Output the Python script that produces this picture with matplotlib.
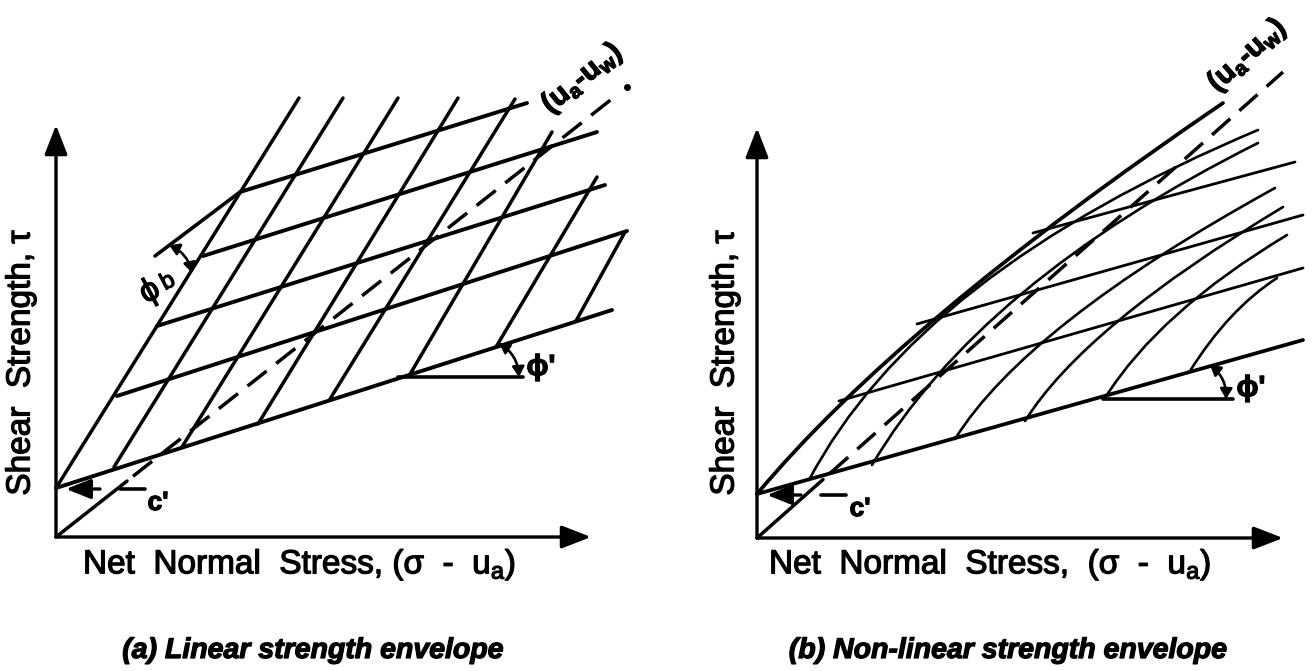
import numpy as np
import matplotlib.pyplot as plt
import matplotlib.patheffects as pe
from matplotlib.patches import FancyArrowPatch, PathPatch
from matplotlib.path import Path

plt.rcParams['font.family'] = ['Liberation Sans', 'DejaVu Sans']
plt.rcParams['mathtext.fontset'] = 'custom'
plt.rcParams['mathtext.rm'] = 'Liberation Sans'
plt.rcParams['mathtext.it'] = 'Liberation Sans:italic'
plt.rcParams['mathtext.bf'] = 'Liberation Sans:bold'

W, H = 1313, 671
# everything below is in picture pixels, y counted downwards

# ---------- (a) linear envelope ----------
a_origin = (56, 537)
a_axis_top = 125
a_axis_right = 591
a_c = 488

# lines parallel to phi' (lower envelope first)
a_flat_x0 = [56, 117, 157, 203, 240]
a_flat_y0 = [488, 396, 326, 256, 192]
a_flat_x1 = [612, 627, 605, 597, 527]
a_flat_y1 = [310, 231, 185, 132, 103]

# steep lines (phi^b direction), start on the lower envelope
a_steep_x0 = [56, 114, 182, 258, 330, 409, 496, 576]
a_steep_y0 = [488, 467, 447, 424, 399, 376, 347, 321]
a_steep_x1 = [299, 343, 398, 458, 515, 552, 597, 625]
a_steep_y1 = [98, 98, 98, 98, 99, 132, 177, 232]

a_ref_seg = [(155, 256), (240, 192)]       # suction-axis direction for phi^b
a_suction_end = (627, 87)

# ---------- (b) non-linear envelope ----------
b_origin = (757, 538)
b_axis_top = 128
b_axis_right = 1283
b_c = 494
b_lower_end = (1303, 340)

# upper envelope + curved suction lines: start, end, start slope, end slope
b_curve_x0 = [757, 809, 872, 955, 1025, 1105, 1190]
b_curve_y0 = [494, 480, 465, 439, 421, 398, 371]
b_curve_x1 = [1223, 1258, 1258, 1275, 1283, 1287, 1277]
b_curve_y1 = [103, 130, 143, 188, 207, 235, 278]
b_curve_s0 = [1.2, 1.9, 1.7, 1.6, 1.6, 1.6, 1.6]
b_curve_s1 = [0.68, 0.42, 0.5, 0.55, 0.6, 0.6, 0.65]

# lines parallel to phi' starting on the upper envelope
b_flat_x0 = [839, 917, 1033]
b_flat_y0 = [401, 324, 233]
b_flat_x1 = [1303, 1303, 1295]
b_flat_y1 = [268, 215, 162]
b_suction_end = (1283, 72)

K = 'black'
THICK = [pe.withStroke(linewidth=0.9, foreground=K)]

fig = plt.figure(figsize=(W / 100, H / 100), dpi=100)
ax = fig.add_axes([0, 0, 1, 1])
ax.set_xlim(0, W)
ax.set_ylim(H, 0)
ax.axis('off')


def line(p, q, lw=2.2, **kw):
    ax.plot([p[0], q[0]], [p[1], q[1]], color=K, lw=lw, solid_capstyle='round', **kw)


def arrow(p, q, lw=2.0, style='-|>,head_length=0.9,head_width=0.35', ms=20, cs='arc3'):
    ax.add_patch(FancyArrowPatch(p, q, arrowstyle=style, mutation_scale=ms,
                                 connectionstyle=cs, color=K, lw=lw,
                                 shrinkA=0, shrinkB=0))


def ctrl(p, q, s0, s1):
    x = (p[1] - q[1] + s0 * p[0] - s1 * q[0]) / (s0 - s1)
    return (x, p[1] - s0 * (x - p[0]))


def curve(p, q, s0, s1, lw):
    c = ctrl(p, q, s0, s1)
    path = Path([p, c, q], [Path.MOVETO, Path.CURVE3, Path.CURVE3])
    ax.add_patch(PathPatch(path, fill=False, ec=K, lw=lw, capstyle='round'))


def text(x, y, s, **kw):
    kw.setdefault('ha', 'center')
    kw.setdefault('va', 'center')
    ax.text(x, y, s, path_effects=THICK, **kw)


def angle_arrow(p, q):
    arrow(p, q, lw=1.9, style='<|-|>,head_length=0.5,head_width=0.3', ms=12,
          cs='arc3,rad=-0.25')


def axes_frame(o, top, right, c, cx_text):
    arrow(o, (o[0], top), lw=2.4)
    arrow(o, (right, o[1]), lw=2.4)
    # c' marker
    arrow((o[0] + 44, c + 1), (o[0] + 10, c + 1), lw=2.4,
          style='-|>,head_length=1.0,head_width=0.4', ms=15)
    line((o[0] + 64, c + 1), (o[0] + 89, c + 1), lw=2.6)
    text(cx_text, c + 15, "c'", fontsize=19, fontweight='bold')


# ---------------- panel (a) ----------------
axes_frame(a_origin, a_axis_top, a_axis_right, a_c, 158)
for x0, y0, x1, y1 in zip(a_flat_x0, a_flat_y0, a_flat_x1, a_flat_y1):
    line((x0, y0), (x1, y1), lw=2.8)
for x0, y0, x1, y1 in zip(a_steep_x0, a_steep_y0, a_steep_x1, a_steep_y1):
    line((x0, y0), (x1, y1), lw=2.5)
line(a_ref_seg[0], a_ref_seg[1], lw=2.6)

# suction axis: solid near origin, dashed beyond
sl = (a_origin[1] - a_suction_end[1]) / (a_suction_end[0] - a_origin[0])
xa = 127
line(a_origin, (xa, a_origin[1] - sl * (xa - a_origin[0])), lw=2.5)
xb, xe = 133, 615
ax.plot([xb, xe], [a_origin[1] - sl * (xb - a_origin[0]), a_origin[1] - sl * (xe - a_origin[0])],
        color=K, lw=2.5, dashes=(7, 3.5))
ax.plot(*a_suction_end, 'o', color=K, ms=4)
text(582, 78, r'(u$_\mathregular{a}$-u$_\mathregular{w}$)', fontsize=21, fontweight='bold',
     rotation=39, rotation_mode='anchor')

# phi^b
angle_arrow((169, 245), (192, 273))
text(150, 292, 'ϕ', fontsize=24, rotation=28)
text(168, 282, 'b', fontsize=17, rotation=28)

# phi'
line((398, 377), (523, 377), lw=2.6)
angle_arrow((499, 343), (519, 377))
text(541, 367, "ϕ'", fontsize=21, fontweight='bold')

text(21, 363, 'Shear  Strength, τ', fontsize=24, rotation=90)
text(83, 565, r'Net  Normal  Stress, (σ  -  u$_\mathregular{a}$)', fontsize=24, ha='left')
text(313, 651, '(a) Linear strength envelope', fontsize=20.5, style='italic',
     fontweight='bold')

# ---------------- panel (b) ----------------
axes_frame(b_origin, b_axis_top, b_axis_right, b_c, 860)
line((b_origin[0], b_c), b_lower_end, lw=2.7)
for i, (x0, y0, x1, y1, s0, s1) in enumerate(zip(b_curve_x0, b_curve_y0, b_curve_x1,
                                                b_curve_y1, b_curve_s0, b_curve_s1)):
    curve((x0, y0), (x1, y1), s0, s1, lw=2.7 if i == 0 else 1.9)
for x0, y0, x1, y1 in zip(b_flat_x0, b_flat_y0, b_flat_x1, b_flat_y1):
    line((x0, y0), (x1, y1), lw=2.0)

sl = (b_origin[1] - b_suction_end[1]) / (b_suction_end[0] - b_origin[0])
xa = 823
line(b_origin, (xa, b_origin[1] - sl * (xa - b_origin[0])), lw=2.5)
xb = 830
ax.plot([xb, b_suction_end[0]], [b_origin[1] - sl * (xb - b_origin[0]), b_suction_end[1]],
        color=K, lw=2.5, dashes=(7, 3.5))
text(1247, 55, r'(u$_\mathregular{a}$-u$_\mathregular{w}$)', fontsize=21, fontweight='bold',
     rotation=42, rotation_mode='anchor')

line((1103, 399), (1233, 399), lw=2.6)
angle_arrow((1210, 365), (1226, 399))
text(1251, 388, "ϕ'", fontsize=21, fontweight='bold')

text(725, 363, 'Shear  Strength, τ', fontsize=24, rotation=90)
text(769, 565, r'Net  Normal  Stress,  (σ  -  u$_\mathregular{a}$)', fontsize=24, ha='left')
text(1008, 651, '(b) Non-linear strength envelope', fontsize=20.5, style='italic',
     fontweight='bold')

fig.savefig('out.png', dpi=100)
